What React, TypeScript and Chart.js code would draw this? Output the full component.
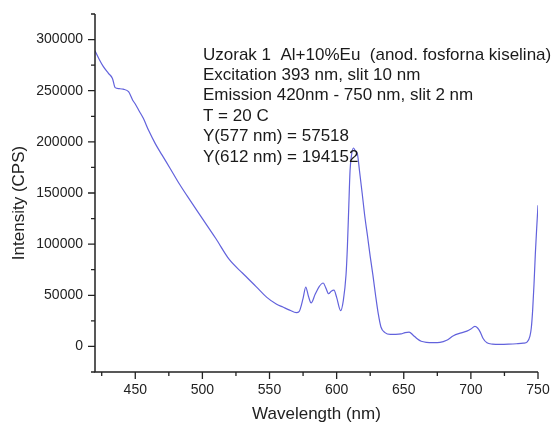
import React, { useEffect, useRef } from "react";
import { Chart, registerables } from "chart.js";

Chart.register(...registerables);

const wavelengths = [420, 423, 426, 430, 433, 435, 438, 441, 445, 448, 450, 453, 456, 460, 465, 470, 476, 483, 491, 500, 510, 520, 530, 540, 548, 555, 560, 565, 570, 572, 575, 577, 579, 581, 584, 587, 590, 592, 594, 596, 598, 600, 603, 605, 607, 608, 609, 610, 611, 612.5, 614, 615.5, 617, 619, 621, 623, 625, 627, 629, 631, 633, 636, 640, 644, 648, 651, 654, 657, 660, 663, 667, 672, 677, 682, 687, 692, 697, 700, 703, 705, 707, 709, 712, 716, 722, 728, 734, 739, 742, 744, 745, 746, 747, 748, 749, 750];
const intensities = [289000, 281000, 274000, 267000, 262000, 253000, 252000, 251500, 249000, 241000, 237000, 230000, 223000, 211000, 198000, 187000, 174000, 158500, 142500, 125000, 105500, 85000, 71500, 58500, 48000, 41500, 38500, 35500, 33000, 34000, 47000, 58000, 49000, 42500, 51000, 58500, 62000, 57000, 51500, 54000, 55000, 48000, 35000, 45000, 70000, 97000, 135000, 172000, 186000, 194000, 191000, 188000, 172000, 150000, 127000, 108000, 88000, 70000, 50000, 32000, 19000, 13500, 11800, 11800, 12200, 13500, 14000, 11000, 7500, 5000, 4000, 3800, 4000, 6000, 10500, 13000, 15000, 17000, 19600, 18000, 14000, 8000, 3500, 2300, 2000, 2200, 2600, 3200, 4500, 10000, 18000, 35000, 60000, 90000, 115000, 138000];

const xMajorTicks = [450, 500, 550, 600, 650, 700, 750];
const xMinorTicks = [425, 475, 525, 575, 625, 675, 725];
const yMajorTicks = [0, 50000, 100000, 150000, 200000, 250000, 300000];
const yMinorTicks = [-25000, 25000, 75000, 125000, 175000, 225000, 275000, 325000];

const annotationLines = [
  "Uzorak 1  Al+10%Eu  (anod. fosforna kiselina)",
  "Excitation 393 nm, slit 10 nm",
  "Emission 420nm - 750 nm, slit 2 nm",
  "T = 20 C",
  "Y(577 nm) = 57518",
  "Y(612 nm) = 194152",
];
const xTitle = "Wavelength (nm)";
const yTitle = "Intensity (CPS)";

const FONT = '"Liberation Sans", Arial, sans-serif';
const INK = "#222222";

const decorPlugin = {
  id: "decor",
  afterDraw(chart: any) {
    const ctx = chart.ctx;
    const xs = chart.scales.x;
    const ys = chart.scales.y;
    const { left, right, top, bottom } = chart.chartArea;
    ctx.save();
    ctx.strokeStyle = INK;
    ctx.lineWidth = 1.5;
    ctx.beginPath();
    ctx.moveTo(left, top);
    ctx.lineTo(left, bottom);
    ctx.lineTo(right, bottom);
    ctx.stroke();
    ctx.lineWidth = 1.3;
    ctx.beginPath();
    for (const v of xMajorTicks) {
      const p = xs.getPixelForValue(v);
      ctx.moveTo(p, bottom);
      ctx.lineTo(p, bottom + 7);
    }
    for (const v of xMinorTicks) {
      const p = xs.getPixelForValue(v);
      ctx.moveTo(p, bottom);
      ctx.lineTo(p, bottom + 4);
    }
    for (const v of yMajorTicks) {
      const p = ys.getPixelForValue(v);
      ctx.moveTo(left, p);
      ctx.lineTo(left - 7, p);
    }
    for (const v of yMinorTicks) {
      const p = ys.getPixelForValue(v);
      ctx.moveTo(left, p);
      ctx.lineTo(left - 4, p);
    }
    ctx.stroke();

    ctx.fillStyle = "#1a1a1a";
    ctx.font = `17px ${FONT}`;
    ctx.textAlign = "left";
    ctx.textBaseline = "middle";
    annotationLines.forEach((t, i) => {
      ctx.fillText(t, 203, 55 + i * 20.4);
    });

    ctx.fillStyle = INK;
    ctx.font = `17px ${FONT}`;
    ctx.textAlign = "center";
    ctx.textBaseline = "middle";
    ctx.fillText(xTitle, (left + right) / 2, 414);
    ctx.save();
    ctx.translate(19, 203);
    ctx.rotate(-Math.PI / 2);
    ctx.fillText(yTitle, 0, 0);
    ctx.restore();
    ctx.restore();
  },
};

export default function App() {
  const ref = useRef<HTMLCanvasElement | null>(null);
  useEffect(() => {
    if (!ref.current) return;
    const chart = new Chart(ref.current, {
      type: "line",
      data: {
        datasets: [
          {
            data: wavelengths.map((w, i) => ({ x: w, y: intensities[i] })),
            borderColor: "#6262dc",
            borderWidth: 1.2,
            pointRadius: 0,
            cubicInterpolationMode: "monotone",
            fill: false,
          },
        ],
      },
      options: {
        animation: false,
        responsive: false,
        maintainAspectRatio: false,
        layout: { padding: { top: 14, right: 15, left: 0, bottom: 0 } },
        plugins: { legend: { display: false }, tooltip: { enabled: false } },
        scales: {
          x: {
            type: "linear",
            min: 420,
            max: 750,
            grid: { display: false, drawTicks: false },
            border: { display: false },
            afterBuildTicks: (s: any) => {
              s.ticks = xMajorTicks.map((v) => ({ value: v }));
            },
            afterFit: (s: any) => {
              s.height = 53;
              s.paddingLeft = 0;
              s.paddingRight = 0;
            },
            ticks: {
              color: INK,
              font: { family: FONT, size: 14 },
              padding: 10,
              maxRotation: 0,
              autoSkip: false,
            },
          },
          y: {
            type: "linear",
            min: -25000,
            max: 325000,
            grid: { display: false, drawTicks: false },
            border: { display: false },
            afterBuildTicks: (s: any) => {
              s.ticks = yMajorTicks.map((v) => ({ value: v }));
            },
            afterFit: (s: any) => {
              s.width = 95;
              s.paddingTop = 0;
              s.paddingBottom = 0;
            },
            ticks: {
              color: INK,
              font: { family: FONT, size: 14 },
              padding: 12,
              autoSkip: false,
              callback: (v: any) => String(v),
            },
          },
        },
      },
      plugins: [decorPlugin],
    });
    return () => chart.destroy();
  }, []);
  return (
    <div style={{ position: "absolute", left: 0, top: 0, width: 553, height: 425, background: "#fff" }}>
      <canvas ref={ref} width={553} height={425} style={{ display: "block" }} />
    </div>
  );
}
